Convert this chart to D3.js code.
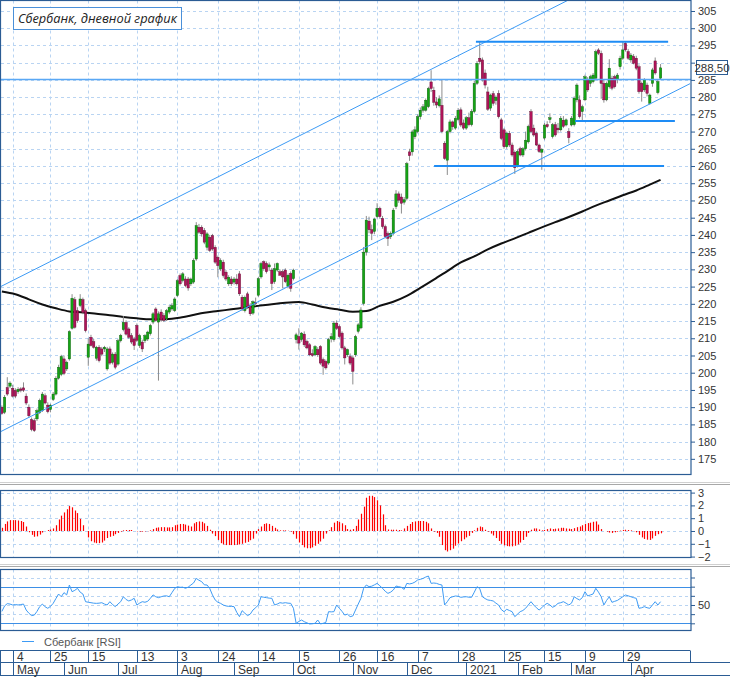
<!DOCTYPE html>
<html>
<head>
<meta charset="utf-8">
<script src="https://d3js.org/d3.v7.min.js"></script>
<style>
  body { margin: 0; background: #fff; }
  text { font-family: "Liberation Sans Narrow", "Arial Narrow", "Liberation Sans", Arial, sans-serif; font-size: 11px; fill: #333; }
</style>
</head>
<body>
<svg id="chart"></svg>
<script>
// Define SVG area dimensions
var svgWidth = 730;
var svgHeight = 678;

// Trading calendar (weekdays minus exchange holidays)
var firstDay = "2020-04-27";
var lastDay = "2021-04-16";
var holidays = ["2020-05-01", "2020-05-11", "2020-06-12", "2020-06-24", "2020-07-01", "2020-11-04",
  "2020-12-31", "2021-01-01", "2021-01-07", "2021-02-23", "2021-03-08"];
var extraTradingDays = ["2021-02-20"];

// Daily candles: [open, high, low, close], one row per trading day
var ohlc = [
  [190.0, 190.5, 187.8, 188.2], [188.5, 193.5, 188.0, 192.9], [195.7, 198.7, 193.3, 193.8], [196.1, 197.5, 195.5, 197.0],
  [195.5, 196.5, 192.8, 193.2], [194.8, 195.5, 192.6, 193.2], [194.5, 195.8, 193.9, 195.2], [195.3, 195.8, 194.3, 194.9],
  [195.6, 197.2, 194.4, 194.9], [193.2, 194.0, 190.6, 191.2], [190.0, 190.8, 187.0, 187.5], [186.4, 187.0, 183.0, 183.5],
  [186.1, 186.8, 182.8, 183.2], [186.6, 189.6, 186.0, 189.0], [188.5, 192.5, 188.0, 191.9], [189.0, 194.4, 188.6, 193.8],
  [193.3, 194.0, 190.8, 191.2], [190.6, 191.4, 188.2, 188.7], [189.3, 191.0, 188.5, 190.6], [192.2, 194.4, 191.8, 193.8],
  [193.8, 199.0, 193.4, 198.4], [198.4, 202.3, 198.0, 201.6], [199.5, 205.2, 199.0, 204.7], [204.0, 205.0, 199.3, 199.8],
  [201.1, 203.5, 200.5, 203.0], [204.0, 212.3, 203.5, 211.9], [212.9, 222.8, 212.5, 221.6], [221.2, 222.0, 212.8, 213.2],
  [218.0, 219.0, 214.5, 215.1], [219.5, 222.8, 219.0, 221.4], [221.2, 221.8, 217.0, 217.5], [218.0, 218.6, 211.7, 212.2],
  [204.5, 210.0, 202.0, 208.3], [210.3, 211.0, 207.6, 207.9], [209.0, 209.8, 207.0, 207.4], [204.2, 207.8, 203.5, 207.4],
  [207.4, 208.0, 203.0, 203.5], [206.9, 207.5, 204.8, 205.4], [206.9, 207.8, 206.0, 207.4], [201.1, 207.5, 200.6, 206.9],
  [206.9, 207.6, 202.3, 202.8], [203.0, 205.9, 202.4, 205.4], [205.4, 206.0, 201.0, 201.6], [202.5, 209.8, 202.0, 209.3],
  [209.3, 211.3, 208.8, 210.8], [212.5, 216.5, 212.0, 214.6], [214.6, 215.2, 210.8, 211.2], [212.7, 213.2, 209.8, 210.3],
  [210.8, 211.5, 208.3, 208.9], [209.8, 210.4, 206.6, 207.9], [213.7, 214.3, 208.9, 209.4], [207.9, 211.3, 207.2, 210.8],
  [208.9, 209.6, 206.0, 206.9], [209.3, 211.2, 208.6, 210.8], [209.8, 212.2, 209.2, 211.8], [211.3, 214.2, 210.8, 213.7],
  [214.7, 217.6, 214.1, 217.1], [218.5, 219.0, 214.8, 215.2], [214.7, 217.8, 197.7, 217.1], [217.6, 218.4, 214.8, 215.3],
  [216.6, 217.3, 214.7, 215.2], [215.6, 218.5, 215.0, 218.0], [217.6, 219.6, 217.0, 219.0], [218.5, 220.2, 218.0, 219.5],
  [218.0, 221.9, 217.6, 221.4], [222.4, 227.2, 222.0, 226.7], [228.2, 228.8, 225.3, 225.8], [226.8, 229.2, 226.2, 228.7],
  [227.2, 228.0, 224.8, 225.3], [227.2, 227.8, 223.8, 224.6], [225.8, 227.6, 225.2, 227.2], [226.3, 233.2, 225.8, 232.6],
  [233.0, 243.7, 232.5, 242.7], [242.2, 243.2, 240.3, 240.8], [242.2, 242.8, 239.5, 240.3], [241.3, 242.0, 237.3, 237.9],
  [236.4, 240.8, 235.5, 240.3], [239.3, 240.0, 235.0, 235.5], [239.8, 240.3, 235.4, 235.9], [236.4, 237.0, 231.6, 232.1],
  [233.5, 234.0, 227.7, 231.1], [230.1, 233.2, 229.5, 232.6], [232.1, 232.8, 227.6, 228.2], [229.2, 229.8, 226.6, 227.2],
  [225.8, 228.3, 225.2, 227.7], [227.2, 228.0, 225.2, 225.8], [226.3, 227.8, 225.6, 227.2], [227.2, 228.6, 225.3, 225.8],
  [228.7, 229.5, 222.3, 222.9], [221.9, 222.5, 217.9, 218.5], [218.0, 222.4, 217.5, 221.9], [222.9, 223.5, 218.5, 219.0],
  [219.5, 220.2, 216.5, 217.1], [217.3, 221.0, 216.8, 220.6], [220.4, 221.8, 219.4, 220.1], [222.5, 227.8, 222.0, 227.3],
  [227.8, 232.2, 227.3, 231.7], [232.2, 232.6, 229.6, 230.2], [231.7, 232.3, 228.8, 229.3], [230.7, 232.0, 229.5, 231.3],
  [229.8, 230.4, 224.0, 225.9], [226.4, 231.7, 225.8, 230.2], [229.8, 232.0, 229.3, 231.7], [229.3, 230.0, 228.2, 228.3],
  [229.3, 230.0, 224.5, 227.8], [229.8, 230.3, 226.0, 226.4], [225.0, 228.8, 224.5, 228.3], [228.8, 229.4, 223.5, 224.5],
  [227.3, 230.2, 226.8, 229.8], [209.6, 211.6, 208.5, 211.0], [210.5, 212.9, 206.7, 208.6], [209.6, 211.8, 209.0, 211.5],
  [211.2, 212.0, 207.5, 208.1], [209.1, 209.6, 206.8, 207.2], [208.1, 208.6, 204.8, 205.2], [205.5, 206.8, 204.6, 205.0],
  [205.2, 208.0, 204.8, 207.6], [206.7, 207.4, 204.6, 205.2], [207.6, 208.0, 202.3, 202.8], [203.8, 204.4, 199.4, 201.9],
  [203.3, 203.8, 200.9, 201.4], [202.8, 210.1, 202.3, 209.6], [209.8, 211.5, 208.8, 210.5], [209.6, 215.0, 209.0, 214.4],
  [214.4, 215.2, 212.4, 212.9], [213.4, 214.0, 210.0, 210.5], [211.5, 212.0, 206.7, 207.2], [207.2, 207.8, 202.4, 204.3],
  [205.2, 207.0, 204.6, 206.7], [204.7, 205.6, 202.2, 202.8], [204.3, 205.0, 196.6, 200.4], [205.2, 211.0, 204.6, 210.5],
  [212.0, 214.4, 211.4, 213.9], [213.0, 219.0, 212.6, 218.2], [220.1, 236.5, 219.5, 235.0], [235.0, 245.5, 234.0, 244.3],
  [244.0, 245.3, 240.5, 241.5], [241.5, 243.0, 238.5, 240.5], [241.0, 245.0, 240.2, 244.6], [245.3, 249.2, 244.8, 247.7],
  [247.7, 248.2, 244.8, 245.3], [244.8, 245.5, 241.8, 242.4], [242.4, 243.0, 239.0, 239.5], [240.4, 241.0, 236.8, 239.0],
  [239.5, 241.0, 238.8, 240.4], [240.4, 247.8, 240.0, 247.2], [248.2, 253.0, 247.5, 251.9], [251.9, 252.6, 249.3, 250.1],
  [251.0, 252.0, 246.2, 249.2], [249.5, 251.0, 248.8, 250.2], [250.6, 261.2, 250.0, 260.7], [264.1, 265.0, 261.5, 263.0],
  [264.1, 270.5, 263.0, 269.9], [268.5, 271.5, 267.8, 270.5], [270.0, 275.0, 269.5, 274.3], [274.3, 277.0, 273.5, 276.2],
  [276.2, 278.0, 275.5, 277.2], [276.2, 279.6, 275.8, 279.1], [277.2, 283.0, 276.8, 282.5], [284.4, 287.8, 281.5, 282.5],
  [282.0, 283.0, 277.5, 278.5], [278.6, 280.0, 276.8, 277.7], [277.5, 280.5, 277.0, 279.5], [277.6, 285.0, 269.5, 270.0],
  [266.6, 267.2, 261.8, 262.2], [261.7, 270.5, 257.4, 270.0], [270.0, 273.5, 269.5, 272.8], [272.8, 273.2, 270.5, 271.4],
  [271.0, 274.5, 270.5, 273.8], [273.5, 276.8, 273.0, 276.2], [276.3, 277.0, 271.3, 271.9], [272.5, 273.5, 270.5, 271.0],
  [271.0, 274.5, 270.5, 274.0], [274.0, 275.5, 271.5, 272.0], [272.0, 276.5, 271.5, 275.8], [275.8, 284.8, 275.3, 284.0],
  [284.0, 290.5, 283.5, 289.8], [291.3, 296.3, 289.5, 290.3], [290.8, 291.5, 284.5, 285.0], [287.0, 288.0, 282.5, 283.5],
  [281.5, 283.0, 276.0, 276.5], [276.8, 281.0, 276.0, 280.6], [281.0, 281.8, 277.5, 278.2], [279.0, 280.5, 277.8, 280.0],
  [281.0, 282.0, 273.8, 274.3], [273.4, 274.0, 267.5, 268.0], [270.5, 271.0, 265.0, 265.6], [265.6, 270.0, 265.0, 269.5],
  [269.5, 270.2, 265.5, 266.1], [266.1, 266.8, 262.7, 263.2], [264.0, 264.5, 257.7, 259.5], [260.2, 264.8, 259.6, 264.2],
  [265.0, 265.6, 262.8, 263.2], [263.2, 265.5, 262.6, 265.0], [265.0, 270.0, 264.5, 267.5], [267.0, 272.0, 266.5, 271.5],
  [275.8, 276.5, 269.5, 270.0], [271.0, 272.0, 268.5, 269.0], [269.5, 270.0, 265.8, 266.1], [266.1, 266.5, 263.8, 264.2],
  [264.0, 265.2, 258.9, 264.8], [268.1, 272.5, 267.5, 271.9], [272.0, 273.0, 271.0, 271.4], [273.5, 275.3, 272.5, 274.0],
  [268.5, 272.5, 268.0, 272.0], [272.0, 272.8, 268.5, 269.0], [271.0, 272.5, 269.5, 270.5], [270.5, 274.5, 270.0, 273.8],
  [273.3, 274.5, 271.0, 271.5], [271.9, 273.8, 271.5, 273.4], [270.0, 271.0, 266.6, 268.2], [271.9, 274.5, 271.5, 273.9],
  [272.0, 280.2, 271.5, 279.7], [279.2, 284.0, 278.5, 283.5], [279.2, 280.5, 273.8, 274.3], [275.8, 277.8, 273.0, 277.2],
  [279.2, 286.5, 278.8, 285.9], [285.0, 285.8, 281.5, 282.1], [284.0, 286.5, 283.0, 285.9], [284.5, 287.0, 284.0, 286.4],
  [285.5, 293.8, 285.0, 293.2], [293.7, 294.2, 292.2, 292.7], [292.7, 293.5, 279.5, 284.0], [284.0, 285.0, 278.4, 279.2],
  [279.2, 284.5, 278.8, 284.0], [283.0, 291.0, 282.5, 288.4], [285.5, 286.2, 282.0, 282.6], [285.9, 286.5, 282.5, 283.0],
  [285.0, 287.0, 284.0, 286.4], [288.8, 292.0, 288.0, 291.3], [291.3, 296.1, 290.8, 293.7], [295.6, 296.0, 293.2, 293.7],
  [293.2, 294.0, 290.8, 291.3], [290.8, 292.8, 290.0, 292.2], [291.8, 292.5, 289.5, 289.8], [291.3, 292.0, 287.8, 288.4],
  [288.8, 289.5, 281.0, 281.6], [284.0, 284.5, 278.7, 281.6], [282.1, 285.5, 281.5, 285.0], [283.5, 284.2, 280.2, 281.1],
  [278.2, 281.0, 277.8, 280.6], [284.0, 288.5, 283.0, 287.9], [290.5, 291.5, 286.5, 287.0], [281.3, 285.0, 280.8, 284.5],
  [285.5, 289.6, 285.0, 288.5]
];

// 200-day moving average: [trading day number, value]
var ma200 = [
  [0, 223.6], [5, 222.8], [10, 221.3], [15, 219.8], [20, 218.7], [25, 217.8], [30, 217.5], [35, 217.1],
  [40, 216.7], [45, 216.2], [50, 215.8], [55, 215.5], [60, 215.5], [65, 215.9], [70, 216.6], [75, 217.4],
  [80, 217.9], [85, 218.4], [90, 218.9], [95, 219.4], [100, 219.9], [105, 220.3], [110, 220.5], [115, 219.8],
  [120, 218.9], [125, 218.3], [130, 217.7], [135, 217.9], [140, 219.4], [145, 220.6], [150, 222.3], [155, 224.6],
  [160, 227.0], [165, 229.5], [170, 232.0], [175, 233.8], [180, 235.8], [185, 237.5], [190, 239.0], [195, 240.6],
  [200, 242.2], [205, 243.7], [210, 245.2], [215, 246.8], [220, 248.5], [225, 250.0], [230, 251.5], [235, 252.9],
  [240, 254.6], [244, 256.0]
];

// Oscillator histogram, one value per trading day
var oscillator = [
  0.25, 0.55, 0.75, 0.85, 0.85, 0.85, 0.82, 0.78, 0.7, 0.35,
  -0.1, -0.3, -0.45, -0.42, -0.28, -0.12, 0.0, 0.08, 0.12, 0.2,
  0.45, 0.9, 1.2, 1.45, 1.7, 1.95, 1.85, 1.6, 1.4, 0.95,
  0.45, 0.0, -0.5, -0.8, -0.9, -0.95, -0.95, -0.9, -0.75, -0.55,
  -0.45, -0.38, -0.25, -0.15, -0.05, 0.05, 0.08, 0.08, 0.08, 0.0,
  -0.03, -0.05, -0.05, -0.03, -0.02, 0.05, 0.15, 0.25, 0.28, 0.3,
  0.3, 0.28, 0.28, 0.3, 0.45, 0.5, 0.55, 0.55, 0.5, 0.42,
  0.35, 0.6, 0.7, 0.75, 0.72, 0.6, 0.4, 0.1, -0.2, -0.4,
  -0.7, -0.95, -1.05, -1.1, -1.1, -1.1, -1.1, -1.08, -1.05, -1.0,
  -0.92, -0.85, -0.72, -0.6, -0.2, 0.15, 0.35, 0.55, 0.6, 0.55,
  0.4, 0.25, 0.12, 0.05, 0.05, 0.05, 0.02, -0.05, -0.25, -0.6,
  -0.9, -1.1, -1.28, -1.35, -1.35, -1.28, -1.15, -1.0, -0.82, -0.6,
  -0.2, 0.05, 0.3, 0.65, 0.78, 0.7, 0.6, 0.45, 0.15, 0.1,
  0.15, 0.4, 0.9, 1.35, 1.9, 2.6, 2.75, 2.75, 2.65, 2.4,
  2.0, 1.3, 0.45, 0.12, 0.1, 0.1, 0.1, 0.08, 0.05, 0.2,
  0.4, 0.55, 0.7, 0.75, 0.78, 0.78, 0.78, 0.72, 0.6, 0.2,
  -0.05, -0.15, -0.45, -1.1, -1.5, -1.6, -1.5, -1.38, -1.15, -0.98,
  -0.8, -0.65, -0.5, -0.38, -0.15, 0.05, 0.25, 0.35, 0.3, 0.1,
  -0.05, -0.2, -0.35, -0.55, -0.78, -1.0, -1.12, -1.18, -1.2, -1.2,
  -1.15, -1.05, -0.9, -0.7, -0.45, -0.15, 0.1, 0.2, 0.2, 0.12,
  0.05, 0.08, 0.15, 0.2, 0.15, 0.18, 0.2, 0.25, 0.25, 0.2,
  0.18, 0.15, 0.22, 0.3, 0.35, 0.45, 0.55, 0.62, 0.65, 0.72,
  0.75, 0.5, 0.15, 0.0, -0.05, -0.12, -0.15, -0.1, -0.05, 0.03,
  0.08, 0.1, 0.08, 0.05, -0.02, -0.1, -0.3, -0.5, -0.62, -0.68,
  -0.7, -0.58, -0.38, -0.25, -0.18
];

// RSI, one value per trading day
var rsi = [
  43, 49, 51.5, 51, 50, 50.5, 50, 50.5, 51, 44.5,
  41, 38.4, 39, 43, 48.2, 51, 48, 46.4, 48.5, 51.8,
  57, 62, 59, 63.5, 61, 71.8, 64.5, 66, 68.2, 64,
  62, 53.6, 53, 52.5, 52, 51.8, 52, 52.5, 51, 50,
  53.6, 50.5, 48.2, 51, 53.6, 59, 56, 54.4, 55.5, 57.3,
  50, 52, 53.6, 53, 54, 57.3, 61, 59, 58, 59,
  59.8, 60, 59, 63.5, 68, 70, 69.3, 69.5, 68.2, 69.5,
  71.8, 74, 79, 77, 75.5, 72, 71.8, 68, 61, 55.5,
  53, 51.8, 50, 49, 48.5, 48.5, 48.2, 42, 37.3, 43.8,
  41, 38.4, 40, 44.5, 47, 50, 59, 58.5, 58, 57.5,
  57.3, 50, 51, 52.5, 52, 52.5, 52, 51.8, 46.4, 30,
  32, 33.6, 31.8, 30.5, 29.3, 29.5, 30, 33.6, 29.3, 30,
  31, 42.7, 42.5, 42.7, 50, 46.4, 43, 39, 40, 37.3,
  38, 44.5, 51, 57.3, 68.2, 71.8, 70, 70.5, 72, 73.6,
  71, 68.2, 65, 62.7, 64, 66.4, 70.7, 70, 69.3, 67,
  73.6, 73, 73.6, 75, 77.3, 78, 79, 80.5, 81.6, 73.6,
  74, 73.6, 72.5, 71.8, 50, 53.6, 58, 59, 59.8, 59.5,
  58.4, 58.8, 59, 58.5, 58.4, 64, 70, 68, 59, 57,
  55.5, 55, 54.4, 52, 50, 45, 42.7, 45.3, 44, 42.7,
  37.3, 40, 42.7, 44, 46.4, 50, 53.6, 50, 47, 44.5,
  47, 50, 51.8, 50, 47.5, 49, 51.8, 52.5, 53.6, 52,
  50, 52, 59, 57, 55.5, 58, 64.5, 59.8, 61, 62,
  68.2, 64, 59, 50, 55, 59, 52.9, 54, 55, 57,
  59, 60.9, 60, 59, 58, 57.3, 46.4, 47, 48.2, 47,
  46.4, 50, 53.6, 50, 53.6
];

// Drawn levels: [price, from day, to day] and trend channel [day, price]
var keyLevel = 285.1;
var supportLevels = [[296.1, 175.6, 246.8], [273.1, 212.3, 249.3], [260.0, 160.1, 245.3]];
var channelLower = [[-0.7, 182.8], [254.9, 283.9]];
var channelUpper = [[-0.7, 224.9], [254.9, 326.0]];

// Axis ticks and labels
var priceTicks = d3.range(175, 306, 5);
var oscTicks = [3, 2, 1, 0, -1, -2];
var rsiTicks = [80, 70, 60, 50, 40, 30];
var rsiBands = [70, 30];
var rsiLabels = [50];
var weekTicks = ["2020-05-04", "2020-05-25", "2020-06-15", "2020-07-13", "2020-08-03", "2020-08-24",
  "2020-09-14", "2020-10-05", "2020-10-26", "2020-11-16", "2020-12-07", "2020-12-28",
  "2021-01-25", "2021-02-15", "2021-03-09", "2021-03-29"];
var monthTicks = ["2020-05", "2020-06", "2020-07", "2020-08", "2020-09", "2020-10", "2020-11",
  "2020-12", "2021-01", "2021-02", "2021-03", "2021-04"];
var monthLabels = ["May", "Jun", "Jul", "Aug", "Sep", "Oct", "Nov", "Dec", "2021", "Feb", "Mar", "Apr"];
var chartTitle = "Сбербанк, дневной график";
var legendLabel = "Сбербанк [RSI]";

// Colours
var frameColor = "#2b5c94";
var gridColor = "#b9d4f2";
var upColor = "#14a514";
var downColor = "#b0145a";

// Build the list of trading days
var parseDay = d3.timeParse("%Y-%m-%d");
var formatDay = d3.timeFormat("%Y-%m-%d");
var tradingDays = d3.timeDay.range(parseDay(firstDay), d3.timeDay.offset(parseDay(lastDay), 1))
  .filter(function(d) {
    var key = formatDay(d);
    var weekday = d.getDay() > 0 && d.getDay() < 6;
    return (weekday && holidays.indexOf(key) < 0) || extraTradingDays.indexOf(key) >= 0;
  })
  .map(formatDay);

var weekIdx = weekTicks.map(d => tradingDays.indexOf(d));
var monthIdx = monthTicks.map(m => tradingDays.findIndex(d => d.slice(0, 7) === m));

// Panels
var plotRight = 691;
var mainPanel = {top: 0.5, bottom: 474.5};
var oscPanel = {top: 490.5, bottom: 557.5};
var rsiPanel = {top: 569.5, bottom: 630.5};

var svg = d3.select("#chart")
  .attr("width", svgWidth)
  .attr("height", svgHeight);

// Scales
var xScale = d3.scaleLinear().domain([-0.7, 254.9]).range([0, 690]);
var yPrice = d3.scaleLinear().domain([170.6, 307.9]).range([474, 1]);
var yOsc = d3.scaleLinear().domain([-2.11, 3.125]).range([558, 491]);
var yRsi = d3.scaleLinear().domain([22.7, 88.2]).range([630, 570]);

svg.append("defs").append("clipPath").attr("id", "mainClip")
  .append("rect").attr("x", 1).attr("y", 1).attr("width", plotRight - 1).attr("height", 473);

// Grids
function vGrid(panel) {
  svg.append("g").selectAll("line").data(weekIdx).enter().append("line")
    .attr("x1", d => Math.round(xScale(d)) + 0.5).attr("x2", d => Math.round(xScale(d)) + 0.5)
    .attr("y1", panel.top).attr("y2", panel.bottom)
    .attr("stroke", gridColor).attr("stroke-dasharray", "3,3");
}
function hGrid(values, scale) {
  svg.append("g").selectAll("line").data(values).enter().append("line")
    .attr("x1", 1).attr("x2", plotRight)
    .attr("y1", d => Math.round(scale(d)) + 0.5).attr("y2", d => Math.round(scale(d)) + 0.5)
    .attr("stroke", gridColor).attr("stroke-dasharray", "3,3");
}
vGrid(mainPanel); vGrid(oscPanel); vGrid(rsiPanel);
hGrid(priceTicks, yPrice);
hGrid(oscTicks, yOsc);
hGrid(rsiTicks.filter(d => rsiBands.indexOf(d) < 0), yRsi);

// Main chart group
var main = svg.append("g").attr("clip-path", "url(#mainClip)");

// Moving average
var maLine = d3.line().x(d => xScale(d[0])).y(d => yPrice(d[1])).curve(d3.curveMonotoneX);
main.append("path").datum(ma200)
  .attr("d", maLine).attr("fill", "none").attr("stroke", "#111").attr("stroke-width", 2);

// Candles
var candles = main.selectAll(".candle").data(ohlc).enter().append("g").attr("class", "candle");
candles.append("line")
  .attr("x1", (d, i) => xScale(i)).attr("x2", (d, i) => xScale(i))
  .attr("y1", d => yPrice(d[1])).attr("y2", d => yPrice(d[2]))
  .attr("stroke", "#8c8c8c").attr("stroke-width", 1);
candles.append("rect")
  .attr("x", (d, i) => xScale(i) - 1.2)
  .attr("width", 2.4)
  .attr("y", d => yPrice(Math.max(d[0], d[3])))
  .attr("height", d => Math.max(1, Math.abs(yPrice(d[0]) - yPrice(d[3]))))
  .attr("fill", d => d[3] >= d[0] ? upColor : downColor)
  .attr("stroke", d => d[3] >= d[0] ? "#0b560b" : "#5a0a2c")
  .attr("stroke-width", 0.4);

// Trend channel and levels
var chanLine = d3.line().x(d => xScale(d[0])).y(d => yPrice(d[1]));
[channelLower, channelUpper].forEach(function(c) {
  main.append("path").datum(c).attr("d", chanLine)
    .attr("fill", "none").attr("stroke", "#3d9bf5").attr("stroke-width", 1);
});
main.append("line")
  .attr("x1", 1).attr("x2", plotRight)
  .attr("y1", yPrice(keyLevel)).attr("y2", yPrice(keyLevel))
  .attr("stroke", "#5aa8f5").attr("stroke-width", 1.4);
main.selectAll(".level").data(supportLevels).enter().append("line")
  .attr("x1", d => xScale(d[1])).attr("x2", d => xScale(d[2]))
  .attr("y1", d => yPrice(d[0])).attr("y2", d => yPrice(d[0]))
  .attr("stroke", "#1e8cf5").attr("stroke-width", 2);

// Oscillator bars
svg.append("g").selectAll("line").data(oscillator).enter().append("line")
  .attr("x1", (d, i) => Math.round(xScale(i)) + 0.5).attr("x2", (d, i) => Math.round(xScale(i)) + 0.5)
  .attr("y1", yOsc(0)).attr("y2", d => yOsc(d))
  .attr("stroke", "#ff0000").attr("stroke-width", 1.2);

// RSI bands and line
svg.append("g").selectAll("line").data(rsiBands).enter().append("line")
  .attr("x1", 1).attr("x2", plotRight)
  .attr("y1", d => Math.round(yRsi(d)) + 0.5).attr("y2", d => Math.round(yRsi(d)) + 0.5)
  .attr("stroke", "#3d8fe6").attr("stroke-width", 1.2);
svg.append("path").datum(rsi)
  .attr("d", d3.line().x((d, i) => xScale(i)).y(d => yRsi(d)))
  .attr("fill", "none").attr("stroke", "#3d9bf5").attr("stroke-width", 1);

// Panel frames
[mainPanel, oscPanel, rsiPanel].forEach(function(p) {
  svg.append("rect").attr("x", 0.5).attr("y", p.top)
    .attr("width", plotRight - 0.5).attr("height", p.bottom - p.top)
    .attr("fill", "none").attr("stroke", frameColor).attr("stroke-width", 1.2);
});

// Splitters between panels
[482, 564].forEach(function(y) {
  svg.append("line").attr("x1", 0).attr("x2", svgWidth).attr("y1", y + 0.5).attr("y2", y + 0.5).attr("stroke", "#d0d0d0");
  svg.append("line").attr("x1", 0).attr("x2", svgWidth).attr("y1", y + 2.5).attr("y2", y + 2.5).attr("stroke", "#a8a8a8");
});

// Right axes
var lastClose = ohlc[ohlc.length - 1][3];
var lastY = yPrice(lastClose);

function styleAxis(g) {
  g.select(".domain").remove();
  g.selectAll(".tick line").attr("stroke", frameColor);
  g.selectAll(".tick text").attr("fill", "#333").attr("font-family", null).attr("font-size", null);
  g.attr("font-family", null).attr("font-size", null);
}
// price labels hidden behind the last-price box are left blank
svg.append("g").attr("transform", `translate(${plotRight}, 0)`)
  .call(d3.axisRight(yPrice).tickValues(priceTicks).tickSize(4).tickPadding(3)
    .tickFormat(d => Math.abs(yPrice(d) - lastY) < 9 ? "" : d))
  .call(styleAxis);
svg.append("g").attr("transform", `translate(${plotRight}, 0)`)
  .call(d3.axisRight(yOsc).tickValues(oscTicks).tickSize(4).tickPadding(3).tickFormat(d3.format("d")))
  .call(styleAxis);
svg.append("g").attr("transform", `translate(${plotRight}, 0)`)
  .call(d3.axisRight(yRsi).tickValues(rsiTicks).tickSize(4).tickPadding(3)
    .tickFormat(d => rsiLabels.indexOf(d) >= 0 ? d : ""))
  .call(styleAxis);

// Last price label
svg.append("rect").attr("x", 696.5).attr("y", Math.round(lastY) - 7.5)
  .attr("width", 31).attr("height", 14)
  .attr("fill", "#fff").attr("stroke", frameColor);
svg.append("text").attr("x", 712).attr("y", Math.round(lastY) + 3.5)
  .attr("text-anchor", "middle").style("font-size", "11.5px")
  .text(d3.format(".2f")(lastClose).replace(".", ","));

// Title box
svg.append("rect").attr("x", 13.5).attr("y", 7.5).attr("width", 168).attr("height", 22)
  .attr("fill", "#fff").attr("stroke", "#4a90d9");
svg.append("text").attr("x", 18).attr("y", 23)
  .style("font-family", "'Open Sans', 'Noto Sans', sans-serif")
  .style("font-style", "italic").style("font-size", "12.8px").style("fill", "#222")
  .text(chartTitle);

// Legend
svg.append("line").attr("x1", 22).attr("x2", 34).attr("y1", 641.5).attr("y2", 641.5)
  .attr("stroke", "#3d9bf5");
svg.append("text").attr("x", 44).attr("y", 645.5).style("fill", "#555").text(legendLabel);

// Date axis
var row1 = {top: 650.5, bottom: 662.5};
var row2 = {top: 662.5, bottom: 675.5};
var dateAxis = svg.append("g");
dateAxis.append("line").attr("x1", 0).attr("x2", 690).attr("y1", row1.top).attr("y2", row1.top).attr("stroke", frameColor);
dateAxis.append("line").attr("x1", 0).attr("x2", svgWidth).attr("y1", row2.top).attr("y2", row2.top).attr("stroke", frameColor);
dateAxis.append("line").attr("x1", 0).attr("x2", svgWidth).attr("y1", row2.bottom).attr("y2", row2.bottom).attr("stroke", frameColor);
dateAxis.append("line").attr("x1", 0.5).attr("x2", 0.5).attr("y1", row1.top).attr("y2", row2.bottom).attr("stroke", frameColor);
dateAxis.append("line").attr("x1", 690.5).attr("x2", 690.5).attr("y1", row1.top).attr("y2", row1.bottom).attr("stroke", frameColor);

dateAxis.selectAll(".wk").data(weekIdx).enter().append("line")
  .attr("x1", d => Math.round(xScale(d)) + 0.5).attr("x2", d => Math.round(xScale(d)) + 0.5)
  .attr("y1", row1.top).attr("y2", row1.bottom).attr("stroke", frameColor);
dateAxis.selectAll(".wkText").data(weekIdx).enter().append("text")
  .attr("x", d => Math.round(xScale(d)) + 4).attr("y", row1.bottom - 2)
  .style("font-size", "12px")
  .text(d => +tradingDays[d].slice(8));

dateAxis.selectAll(".mo").data(monthIdx).enter().append("line")
  .attr("x1", d => Math.round(xScale(d)) + 0.5).attr("x2", d => Math.round(xScale(d)) + 0.5)
  .attr("y1", row2.top).attr("y2", row2.bottom).attr("stroke", frameColor);
dateAxis.selectAll(".moText").data(monthIdx).enter().append("text")
  .attr("x", d => Math.round(xScale(d)) + 4).attr("y", row2.bottom - 2)
  .style("font-size", "12px")
  .text((d, i) => monthLabels[i]);
</script>
</body>
</html>
